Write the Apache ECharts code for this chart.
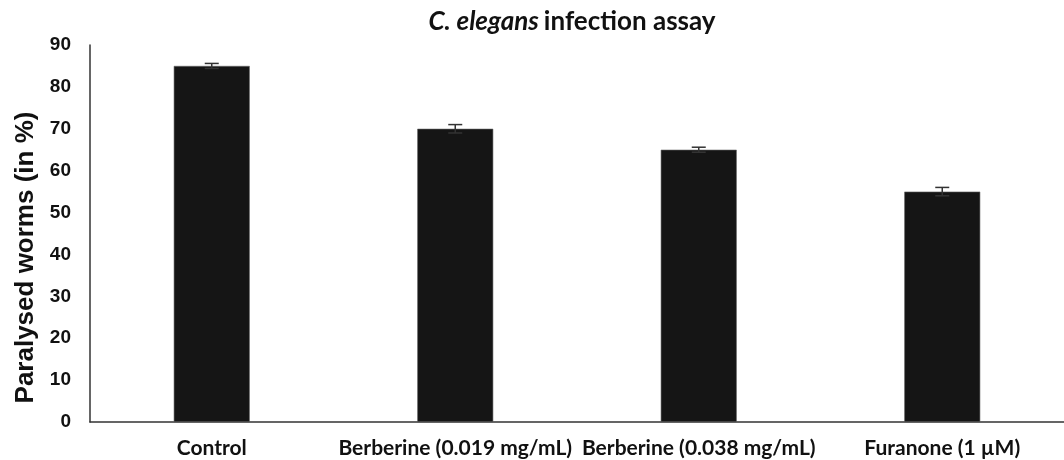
<!DOCTYPE html>
<html><head><meta charset="utf-8">
<script src="https://cdn.jsdelivr.net/npm/echarts@6/dist/echarts.min.js"></script>
<style>html,body{margin:0;padding:0;background:#fff}#c{width:1064px;height:460px}</style>
</head><body><div id="c"></div>
<script>
const categories = ['Control', 'Berberine (0.019 mg/mL)', 'Berberine (0.038 mg/mL)', 'Furanone (1 \u00b5M)'];
const values = [85, 70, 65, 55];
const errors = [0.6, 1.0, 0.6, 1.0];
const yTicks = [0, 10, 20, 30, 40, 50, 60, 70, 80, 90];

const chart = echarts.init(document.getElementById('c'));
chart.setOption({
  animation: false,
  title: {
    text: '{i|C. elegans} {b|infection assay}',
    left: 567, top: 4, textAlign: 'center',
    textStyle: {
      rich: {
        i: {fontFamily: 'Lato', fontStyle: 'italic', fontWeight: 'bold', fontSize: 26, color: '#111'},
        b: {fontFamily: 'Lato', fontWeight: 'bold', fontSize: 26, color: '#111'}
      }
    }
  },
  grid: {left: 90, right: -7, top: 45, bottom: 38, containLabel: false},
  xAxis: {
    type: 'category', data: categories,
    axisLine: {lineStyle: {color: '#333', width: 1.5}},
    axisTick: {show: false},
    axisLabel: {fontFamily: 'Lato', fontWeight: 'bold', fontSize: 21, color: '#111', margin: 16, interval: 0}
  },
  yAxis: {
    type: 'value', min: 0, max: 90, interval: 10,
    name: 'Paralysed worms (in %)', nameLocation: 'middle', nameGap: 48,
    nameTextStyle: {fontFamily: 'Liberation Sans', fontWeight: 'bold', fontSize: 26, color: '#111', padding: [0, 48, 0, 0]},
    axisLine: {show: true, lineStyle: {color: '#333', width: 1.5}},
    axisTick: {show: false},
    splitLine: {show: false},
    axisLabel: {fontFamily: 'Liberation Sans', fontWeight: 'bold', fontSize: 19, color: '#111', margin: 19,
      formatter: v => yTicks.includes(v) ? String(v) : ''}
  },
  series: [
    {type: 'bar', data: values, barWidth: 76,
     itemStyle: {color: '#151515', borderColor: '#666', borderWidth: 0.6}},
    {type: 'custom', data: values.map((v, i) => [i, v, errors[i]]), z: 5,
     renderItem: function (params, api) {
       const x = api.value(0), v = api.value(1), e = api.value(2);
       const top = api.coord([x, v + e]), bot = api.coord([x, v - e]);
       const hw = 7;
       const st = {stroke: '#333', lineWidth: 1.5};
       return {type: 'group', children: [
         {type: 'line', shape: {x1: top[0], y1: top[1], x2: bot[0], y2: bot[1]}, style: st},
         {type: 'line', shape: {x1: top[0]-hw, y1: top[1], x2: top[0]+hw, y2: top[1]}, style: st},
         {type: 'line', shape: {x1: bot[0]-hw, y1: bot[1], x2: bot[0]+hw, y2: bot[1]}, style: st}
       ]};
     }}
  ]
});
</script></body></html>
